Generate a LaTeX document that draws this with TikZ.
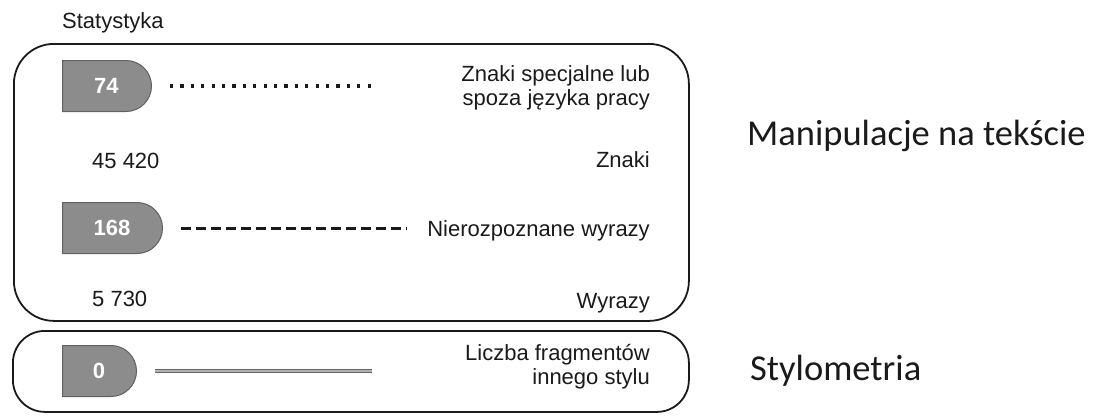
\documentclass[tikz,border=0pt]{standalone}
\usepackage{fontspec}
\setmainfont{Liberation Sans}
\newfontfamily\bigfont{Carlito}
\usetikzlibrary{shapes.misc}
\definecolor{ink}{HTML}{1A1A1A}
\tikzset{
  panel/.style={draw=ink, line width=1.8pt, inner sep=0pt, anchor=north west},
  badge/.style={rounded rectangle, rounded rectangle west arc=none, fill=black!45, draw=black!62,
    line width=1pt, minimum height=51pt, inner sep=0pt, text=white,
    font=\fontsize{22}{26}\selectfont\bfseries},
  lbl/.style={inner sep=0pt, text=ink, font=\fontsize{22}{26}\selectfont},
  biglbl/.style={inner sep=0pt, text=ink, font=\bigfont\fontsize{36.5}{40}\selectfont},
  dotline/.style={ink, line width=3.4pt, dash pattern=on 3.2pt off 7.2pt},
  dashline/.style={ink, line width=3pt, dash pattern=on 10pt off 5pt},
  solidline/.style={draw=black!60, double=black!30, double distance=1.2pt, line width=1pt},
}
\begin{document}
\begin{tikzpicture}[x=1pt, y=-1pt]
\useasboundingbox (0,0) rectangle (1096,416);
% title
\node[lbl] (title) [anchor=base west] at (62,28) {Statystyka};
% panels
\node[panel, rounded corners=40pt, minimum width=675pt, minimum height=277pt] (box1) at (13,43) {};
\node[panel, rounded corners=32pt, minimum width=676pt, minimum height=81pt] (box2) at (12,330) {};
% badges
\node[badge, minimum width=89pt, anchor=west] (b74) at (62,86) {74};
\node[badge, minimum width=100pt, anchor=west] (b168) at (62,228) {168};
\node[badge, minimum width=74pt, anchor=west] (b0) at (62,371) {0};
% labels right
\node[lbl, anchor=base east] (l1a) at (650,81) {Znaki specjalne lub};
\node[lbl, anchor=base east] (l1b) at (650,105) {spoza języka pracy};
\node[lbl, anchor=base east] (l2) at (650,167) {Znaki};
\node[lbl, anchor=base east] (l3) at (650,236) {Nierozpoznane wyrazy};
\node[lbl, anchor=base east] (l4) at (650,308) {Wyrazy};
\node[lbl, anchor=base east] (l5a) at (650,360) {Liczba fragmentów};
\node[lbl, anchor=base east] (l5b) at (650,384) {innego stylu};
% numbers left
\node[lbl, anchor=base west] (n1) at (92,168) {45 420};
\node[lbl, anchor=base west] (n2) at (92,306) {5 730};
% big labels
\node[biglbl, anchor=base west] (m1) at (747,145) {Manipulacje na tekście};
\node[biglbl, anchor=base west] (m2) at (750,380) {Stylometria};
% connectors
\coordinate (e74) at (376,86);
\coordinate (e168) at (407,228);
\coordinate (e0) at (372,371);
\draw[dotline] ([xshift=18pt]b74.east) -- (e74);
\draw[dashline] ([xshift=18pt]b168.east) -- (e168);
\draw[solidline] ([xshift=18pt]b0.east) -- (e0);
\end{tikzpicture}
\end{document}
